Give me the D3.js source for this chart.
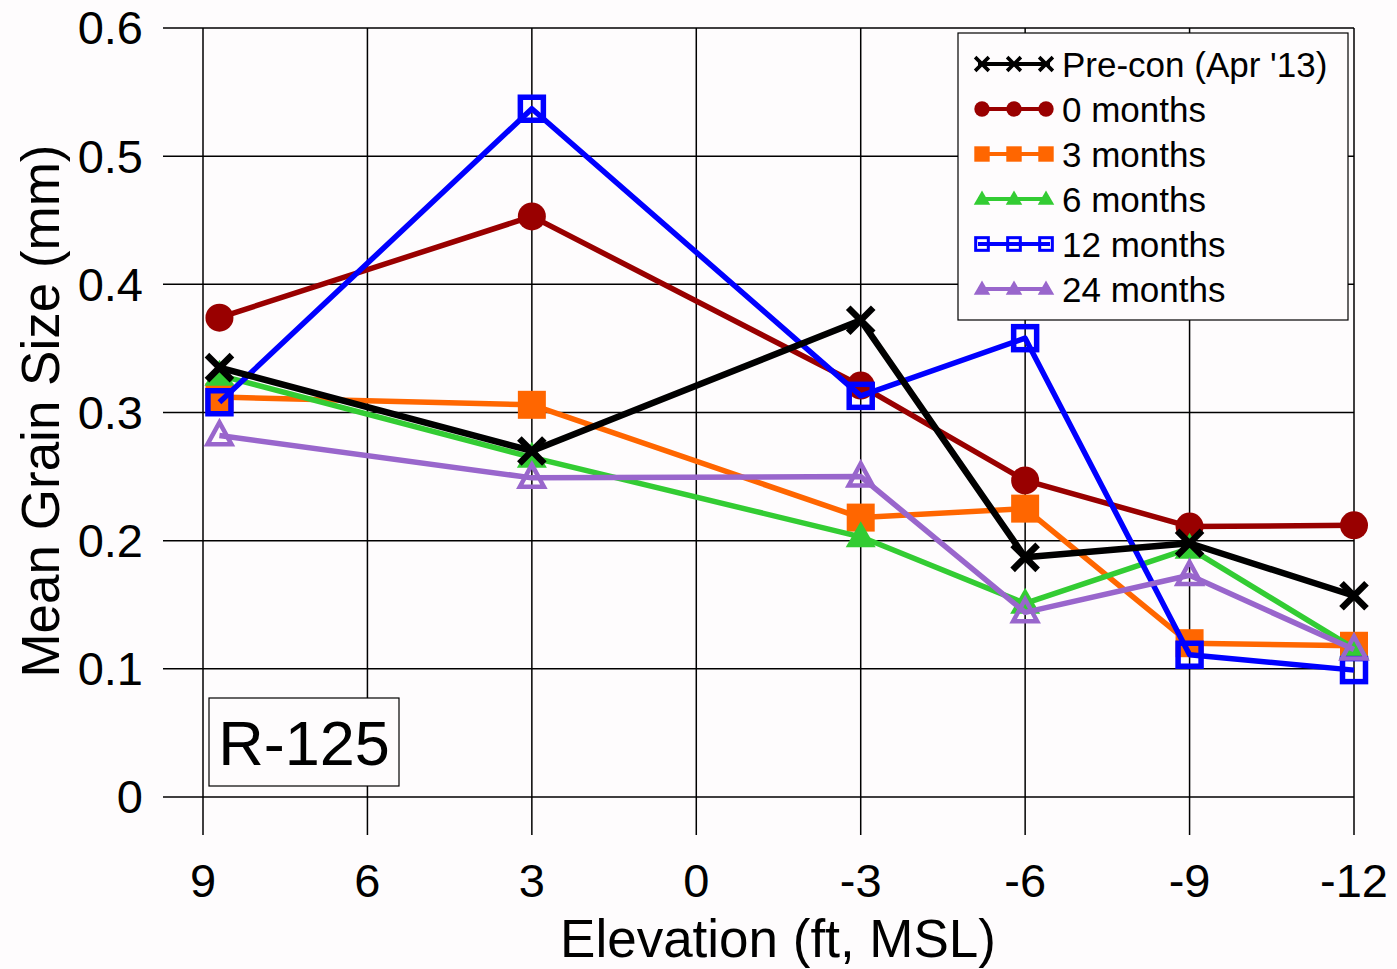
<!DOCTYPE html>
<html><head><meta charset="utf-8">
<script src="https://cdn.jsdelivr.net/npm/d3@7"></script>
<style>body{margin:0;background:#fefcfd;} svg{display:block;font-family:"Liberation Sans",Arial,sans-serif;}</style>
</head><body>
<svg id="c" width="1397" height="969"></svg>
<script>
const elevations = [8.7, 3, -3, -6, -9, -12];
const xTicks = [9, 6, 3, 0, -3, -6, -9, -12];
const yTicks = [0, 0.1, 0.2, 0.3, 0.4, 0.5, 0.6];
const seriesNames = ["0 months", "3 months", "6 months", "12 months", "24 months", "Pre-con (Apr '13)"];
const preCon   = [0.335, 0.270, 0.372, 0.187, 0.198, 0.157];
const m0       = [0.374, 0.453, 0.321, 0.247, 0.211, 0.212];
const m3       = [0.312, 0.306, 0.218, 0.225, 0.120, 0.118];
const m6       = [0.329, 0.265, 0.203, 0.151, 0.194, 0.116];
const m12      = [0.308, 0.537, 0.313, 0.358, 0.111, 0.099];
const m24      = [0.282, 0.249, 0.250, 0.144, 0.173, 0.115];
const legendOrder = ["Pre-con (Apr '13)", "0 months", "3 months", "6 months", "12 months", "24 months"];

const series = [
  {name: "0 months", values: m0, color: "#990000", marker: "circle", legendMarker: "circle"},
  {name: "3 months", values: m3, color: "#ff6600", marker: "square", legendMarker: "square"},
  {name: "6 months", values: m6, color: "#33cc33", marker: "triangle", legendMarker: "triangle"},
  {name: "12 months", values: m12, color: "#0000ff", marker: "opensquare", legendMarker: "opensquare"},
  {name: "24 months", values: m24, color: "#9966cc", marker: "opentriangle", legendMarker: "triangle"},
  {name: "Pre-con (Apr '13)", values: preCon, color: "#000000", marker: "x", legendMarker: "x"}
];

const svg = d3.select("#c");
const x = d3.scaleLinear().domain([9, -12]).range([203, 1354]);
const y = d3.scaleLinear().domain([0, 0.6]).range([797, 28]);

// grid lines extended as ticks
const g = svg.append("g");
g.selectAll("line.h").data(yTicks).join("line")
  .attr("x1", 163).attr("x2", 1354)
  .attr("y1", d => y(d)).attr("y2", d => y(d))
  .attr("stroke", "#000").attr("stroke-width", 1.5);
g.selectAll("line.v").data(xTicks).join("line")
  .attr("y1", 28).attr("y2", 835)
  .attr("x1", d => x(d)).attr("x2", d => x(d))
  .attr("stroke", "#000").attr("stroke-width", 1.5);

// tick labels
svg.append("g").selectAll("text").data(yTicks).join("text")
  .attr("x", 143).attr("y", d => y(d)).attr("dy", "0.35em")
  .attr("text-anchor", "end").attr("font-size", 47)
  .text(d => d === 0 ? "0" : d3.format(".1f")(d));
svg.append("g").selectAll("text").data(xTicks).join("text")
  .attr("x", d => x(d)).attr("y", 897)
  .attr("text-anchor", "middle").attr("font-size", 47)
  .text(d => d3.format("d")(d).replace("−", "-"));

// axis titles
svg.append("text").attr("x", 778).attr("y", 957).attr("text-anchor", "middle")
  .attr("font-size", 53).text("Elevation (ft, MSL)");
svg.append("text").attr("transform", "translate(59,411) rotate(-90)").attr("text-anchor", "middle")
  .attr("font-size", 53).text("Mean Grain Size (mm)");

// R-125 box
svg.append("rect").attr("x", 209).attr("y", 698).attr("width", 190).attr("height", 88)
  .attr("fill", "#fefcfd").attr("stroke", "#000").attr("stroke-width", 1.2);
svg.append("text").attr("x", 304).attr("y", 765).attr("text-anchor", "middle")
  .attr("font-size", 63).text("R-125");

function drawMarker(sel, type, color, cx, cy, scale) {
  const s = scale || 1;
  if (type === "circle") {
    sel.append("circle").attr("cx", cx).attr("cy", cy).attr("r", 14 * s).attr("fill", color);
  } else if (type === "square") {
    const a = 28 * s;
    sel.append("rect").attr("x", cx - a/2).attr("y", cy - a/2).attr("width", a).attr("height", a).attr("fill", color);
  } else if (type === "opensquare") {
    const a = 23 * s;
    sel.append("rect").attr("x", cx - a/2).attr("y", cy - a/2).attr("width", a).attr("height", a)
      .attr("fill", "none").attr("stroke", color).attr("stroke-width", 5.5 * s);
  } else if (type === "triangle") {
    const h = 26 * s, w = 30 * s;
    sel.append("path").attr("d", `M${cx},${cy - h*0.6}L${cx + w/2},${cy + h*0.4}L${cx - w/2},${cy + h*0.4}Z`).attr("fill", color);
  } else if (type === "opentriangle") {
    const h = 22 * s, w = 24 * s;
    sel.append("path").attr("d", `M${cx},${cy - h*0.6}L${cx + w/2},${cy + h*0.4}L${cx - w/2},${cy + h*0.4}Z`)
      .attr("fill", "none").attr("stroke", color).attr("stroke-width", 4.5 * s);
  } else if (type === "x") {
    const r = 12.5 * s;
    sel.append("path").attr("d", `M${cx-r},${cy-r}L${cx+r},${cy+r}M${cx-r},${cy+r}L${cx+r},${cy-r}`)
      .attr("stroke", color).attr("stroke-width", 6.5 * s);
  }
}

const line = d3.line().x((d, i) => x(elevations[i])).y(d => y(d));
series.forEach(s => {
  const gs = svg.append("g");
  gs.append("path").attr("d", line(s.values)).attr("fill", "none")
    .attr("stroke", s.color).attr("stroke-width", s.marker === "x" ? 6.5 : 5.5).attr("stroke-linejoin", "round");
  s.values.forEach((v, i) => drawMarker(gs, s.marker, s.color, x(elevations[i]), y(v), 1));
});

// legend
const lg = svg.append("g");
lg.append("rect").attr("x", 958).attr("y", 33).attr("width", 390).attr("height", 287)
  .attr("fill", "#fefcfd").attr("stroke", "#000").attr("stroke-width", 1.2);
legendOrder.forEach((name, i) => {
  const s = series.find(d => d.name === name);
  const ly = 64 + i * 45;
  lg.append("line").attr("x1", 978).attr("x2", 1050).attr("y1", ly).attr("y2", ly)
    .attr("stroke", s.color).attr("stroke-width", 4);
  [982, 1014, 1046].forEach(cx => drawMarker(lg, s.legendMarker, s.color, cx, ly, 0.55));
  lg.append("text").attr("x", 1062).attr("y", ly).attr("dy", "0.36em")
    .attr("font-size", 35).text(name);
});
</script>
</body></html>
